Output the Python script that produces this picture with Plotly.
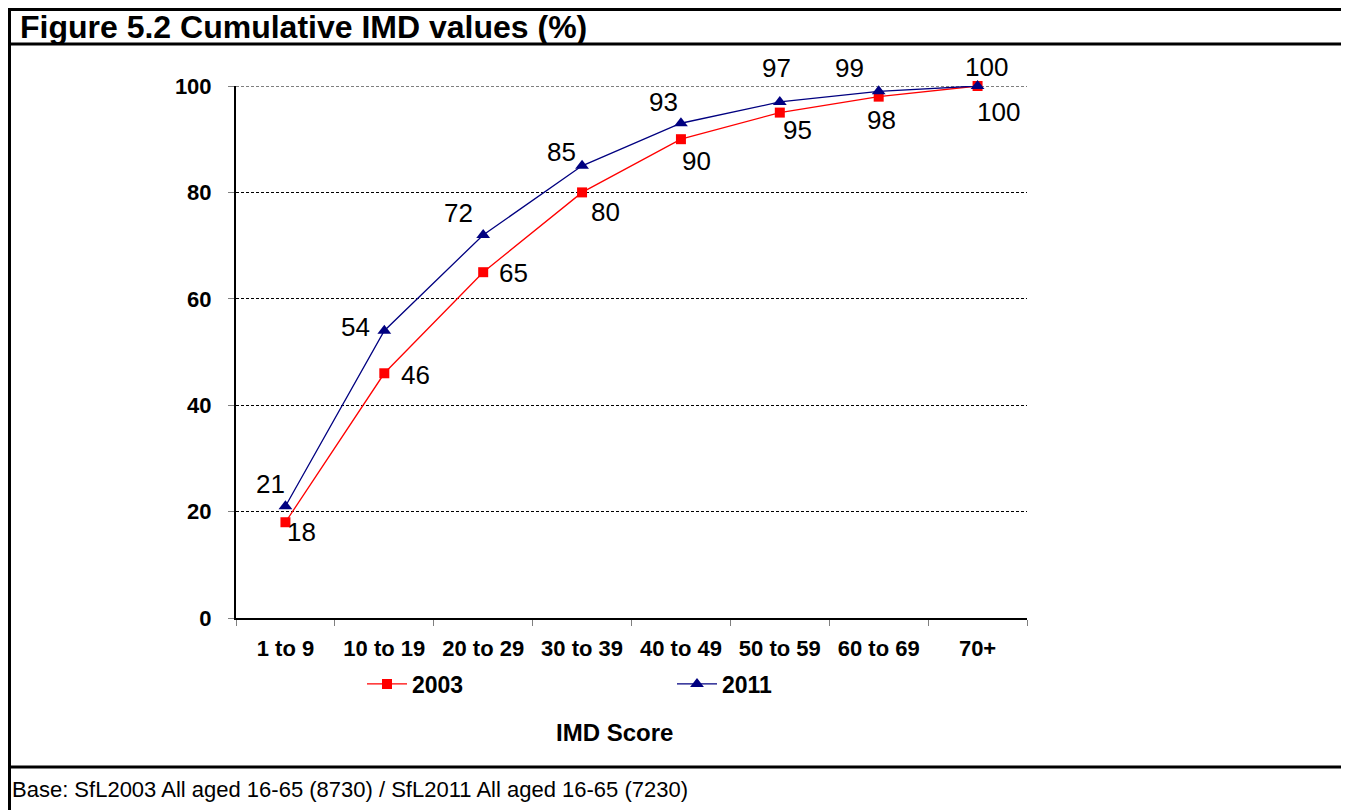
import plotly.graph_objects as go

# IMD score bands and cumulative % values
bands = ['1 to 9', '10 to 19', '20 to 29', '30 to 39', '40 to 49', '50 to 59', '60 to 69', '70+']
cum_2003 = [18, 46, 65, 80, 90, 95, 98, 100]
cum_2011 = [21, 54, 72, 85, 93, 97, 99, 100]
y_ticks = [0, 20, 40, 60, 80, 100]

# label offsets from each marker in px (dx right, dy down), as placed in the original
off_2003 = [(16, 10), (31, 2), (30, 1), (23, 20), (16, 22), (18, 17), (3, 23), (21, 26)]
off_2011 = [(-15, -22), (-29, -4), (-25, -22), (-21, -14), (-17, -21), (-3, -34), (-29, -23), (9, -19)]

# the page body has an 8px margin, so the figure is drawn 8px in and down
OFF = 8
W, H = 1349 - OFF, 810 - OFF
L, T = 236 - OFF, 86 - OFF
pw, ph = 1027 - 236, 618 - 86
R, B = W - L - pw, H - T - ph


def px(x):
    # page pixel -> paper x
    return (x - OFF - L) / pw


def py(y):
    # page pixel -> paper y
    return (T + ph - (y - OFF)) / ph


arial = 'Liberation Sans, Arial'

fig = go.Figure()
fig.add_trace(go.Scatter(
    x=bands, y=cum_2003, name='2003', mode='lines+markers',
    line=dict(color='#ff0000', width=1.3),
    marker=dict(symbol='square', size=10, color='#ff0000'),
    cliponaxis=False,
))
fig.add_trace(go.Scatter(
    x=bands, y=cum_2011, name='2011', mode='lines+markers',
    line=dict(color='#000080', width=1.3),
    marker=dict(symbol='triangle-up', size=12, color='#000080'),
    cliponaxis=False,
))

fig.update_xaxes(
    type='category', tickson='boundaries', range=[-0.5, 7.5],
    showline=True, linecolor='black', linewidth=2,
    ticks='outside', ticklen=6, tickcolor='#808080', tickwidth=1,
    tickfont=dict(family=arial, size=22, color='black', weight='bold'),
    ticklabelstandoff=10,
    showgrid=False, zeroline=False,
)
fig.update_yaxes(
    range=[0, 100], tickvals=y_ticks,
    showline=True, linecolor='black', linewidth=2,
    ticks='outside', ticklen=6, tickcolor='#808080', tickwidth=1,
    tickfont=dict(family=arial, size=22, color='black', weight='bold'),
    showgrid=True, gridcolor='black', griddash='3px,2px', gridwidth=1,
    zeroline=False, ticklabelstandoff=12,
)

shapes = [
    # top gridline at the range edge
    dict(type='line', xref='paper', yref='y', x0=0, x1=1, y0=y_ticks[-1], y1=y_ticks[-1],
         line=dict(color='black', width=1, dash='3px,2px'), layer='below'),
    # outer frame
    dict(type='rect', xref='paper', yref='paper', x0=px(9.5), x1=px(1346), y0=py(9.5), y1=py(830),
         line=dict(color='black', width=3), layer='above'),
    # line under title
    dict(type='line', xref='paper', yref='paper', x0=px(9), x1=px(1346), y0=py(44), y1=py(44),
         line=dict(color='black', width=3)),
    # line above footer
    dict(type='line', xref='paper', yref='paper', x0=px(9), x1=px(1346), y0=py(767), y1=py(767),
         line=dict(color='black', width=3)),
]

annotations = [
    dict(text='Figure 5.2 Cumulative IMD values (%)', xref='paper', yref='paper',
         x=px(18), y=py(27), xanchor='left', yanchor='middle', showarrow=False,
         font=dict(family=arial, size=32, color='black', weight='bold')),
    dict(text='Base: SfL2003 All aged 16-65 (8730) / SfL2011 All aged 16-65 (7230)',
         xref='paper', yref='paper', x=px(10), y=py(789), xanchor='left', yanchor='middle',
         showarrow=False, font=dict(family=arial, size=22, color='black')),
    dict(text='IMD Score', xref='paper', yref='paper', x=px(614), y=py(732),
         xanchor='center', yanchor='middle', showarrow=False,
         font=dict(family=arial, size=24, color='black', weight='bold')),
]

for vals, offs in ((cum_2003, off_2003), (cum_2011, off_2011)):
    for cat, v, (dx, dy) in zip(bands, vals, offs):
        annotations.append(dict(
            x=cat, y=v, xref='x', yref='y', text=str(v), showarrow=False,
            xanchor='center', yanchor='middle', xshift=dx, yshift=-dy,
            font=dict(family=arial, size=26, color='black'),
        ))

fig.update_layout(
    width=W, height=H,
    margin=dict(l=L, r=R, t=T, b=B, autoexpand=False),
    paper_bgcolor='white', plot_bgcolor='white',
    shapes=shapes, annotations=annotations,
    showlegend=True,
    legend=dict(orientation='h', x=px(362), y=py(684), xanchor='left', yanchor='middle',
                entrywidth=255, entrywidthmode='pixels',
                font=dict(family=arial, size=23, color='black', weight='bold'),
                bgcolor='rgba(0,0,0,0)', itemwidth=40),
)

fig.write_html('out.html')
